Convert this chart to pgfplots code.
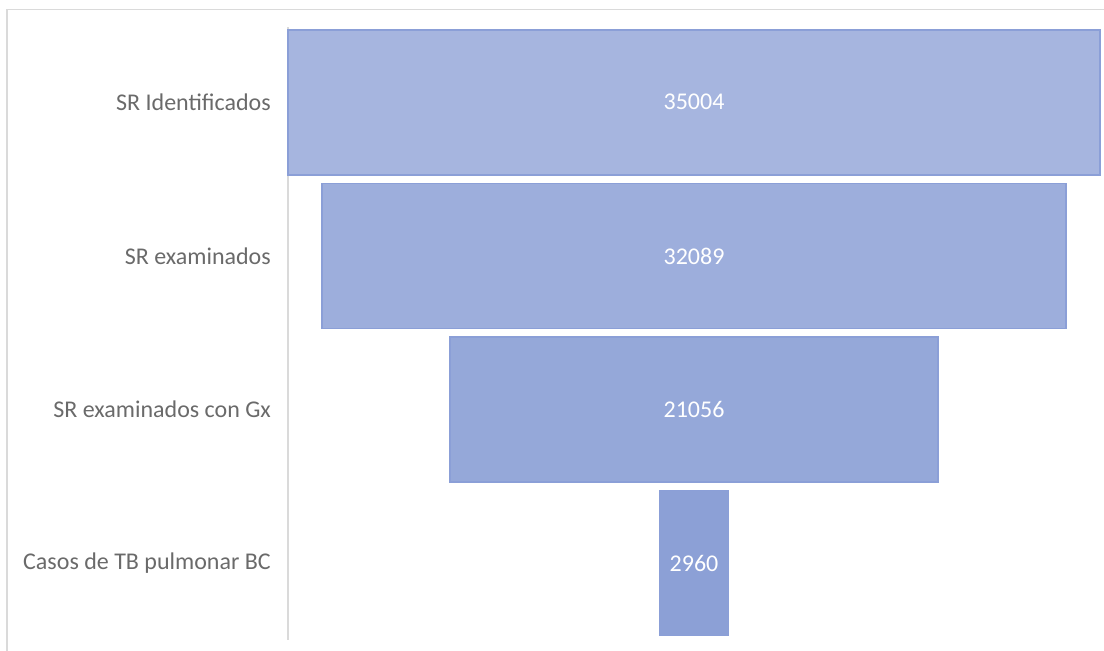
\documentclass[border=0pt]{standalone}
\usepackage{pgfplots}
\pgfplotsset{compat=1.18}
\usepackage{pgfplotstable}
\usepackage{fontspec}
\setmainfont{Carlito}
\definecolor{labgray}{HTML}{6A6A6A}
\definecolor{framegray}{HTML}{DADADA}
\definecolor{baredge}{HTML}{8B9FD7}
\definecolor{barA}{HTML}{A6B5DF}
\definecolor{barB}{HTML}{9DAEDC}
\definecolor{barC}{HTML}{95A8D9}
\definecolor{barD}{HTML}{8CA0D6}

% offset = (35004 - value)/2 centres each bar of the funnel
\pgfplotstableread{
idx offset value
0 0 35004
1 1457.5 32089
2 6974 21056
3 16022 2960
}\funnel

\pgfplotsset{funnelaxis/.style={
  at={(288pt,-640pt)}, anchor=south west,
  scale only axis,
  width=812pt, height=613pt,
  xmin=0, xmax=35004,
  ymin=-0.49, ymax=3.5,
  y dir=reverse,
  xbar stacked,
  bar width=145pt,
  clip=false,
}}

\begin{document}
\begin{tikzpicture}
\useasboundingbox (0,0) rectangle (1104pt,-651pt);
\draw[framegray, line width=1.2pt] (7pt,-651pt) -- (7pt,-9.5pt) -- (1104pt,-9.5pt);
% fills, one colour per stage
\begin{axis}[
  funnelaxis,
  axis x line=none,
  axis y line*=left,
  axis line style={framegray, line width=1.5pt},
  ytick={0,1,2,3},
  yticklabels={SR Identificados, SR examinados, SR examinados con Gx, Casos de TB pulmonar BC},
  ytick style={draw=none},
  yticklabel style={font=\fontsize{24}{28}\selectfont, text=labgray, inner sep=0pt, anchor=east},
  yticklabel shift=17pt,
]
\addplot[draw=none, fill=none] table[x=offset, y=idx] {\funnel};
\addplot[draw=none, fill=barA] coordinates {(35004,0) (0,1) (0,2) (0,3)};
\addplot[draw=none, fill=barB] coordinates {(0,0) (32089,1) (0,2) (0,3)};
\addplot[draw=none, fill=barC] coordinates {(0,0) (0,1) (21056,2) (0,3)};
\addplot[draw=none, fill=barD] coordinates {(0,0) (0,1) (0,2) (2960,3)};
\end{axis}
% outlines and value labels
\begin{axis}[funnelaxis, hide axis]
\addplot[draw=none, fill=none] table[x=offset, y=idx] {\funnel};
\addplot[draw=baredge, line width=1.5pt, fill=none,
  point meta=explicit symbolic,
  nodes near coords={\pgfplotspointmeta},
  every node near coord/.append style={anchor=center, text=white, font=\fontsize{24}{28}\selectfont}]
  table[x=value, y=idx, meta=value] {\funnel};
\end{axis}
\end{tikzpicture}
\end{document}
